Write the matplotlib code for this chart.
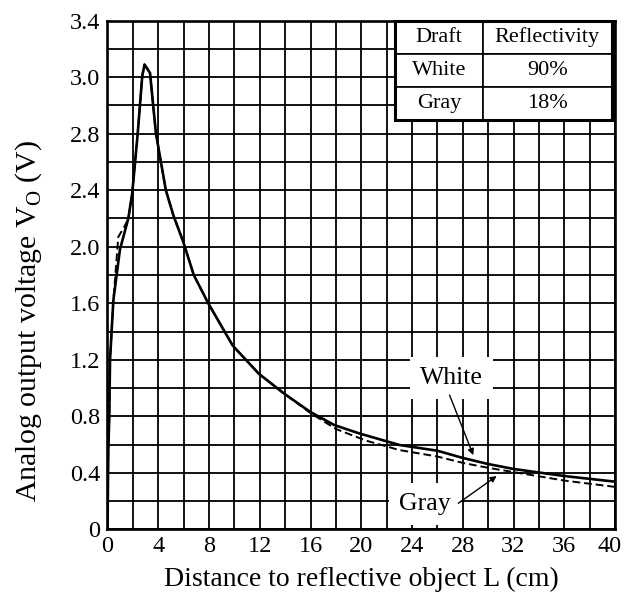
import matplotlib

matplotlib.use("Agg")
import matplotlib.pyplot as plt
from matplotlib.patches import Rectangle
from matplotlib.transforms import ScaledTranslation

# Values (y in grid units: one row = 0.2 V)
WHITE_DISTANCE_CM = [
    0, 0.06, 0.14, 0.2, 0.46, 0.98, 1.64, 1.95, 2.38, 2.74, 2.92, 3.35, 3.82,
    4.6, 5.2, 5.95, 6.8, 7.94, 9.87, 11.94, 13.93, 15.96, 17.87, 19.9, 23.0,
    26.0, 28.0, 30.0, 32.0, 36.0, 40.0,
]
WHITE_VOLTAGE_V = [
    0, 0.54, 0.8, 1.2, 1.62, 1.98, 2.2, 2.38, 2.8, 3.21, 3.29, 3.23, 2.8,
    2.4, 2.22, 2.04, 1.8, 1.6, 1.3, 1.1, 0.96, 0.832, 0.738, 0.677, 0.597,
    0.556, 0.505, 0.462, 0.427, 0.377, 0.337,
]
GRAY_DISTANCE_CM = [
    0, 0.06, 0.14, 0.2, 0.46, 0.62, 0.85, 1.38, 1.64, 1.95, 2.38, 2.74, 2.92,
    3.35, 3.82, 4.6, 5.2, 5.95, 6.8, 7.94, 9.87, 11.94, 13.93, 15.96, 18.0,
    20.4, 23.0, 26.0, 28.0, 30.0, 32.0, 36.0, 40.0,
]
GRAY_VOLTAGE_V = [
    0, 0.54, 0.8, 1.2, 1.62, 1.8, 2.07, 2.15, 2.2, 2.38, 2.8, 3.21, 3.29,
    3.23, 2.8, 2.4, 2.22, 2.04, 1.8, 1.6, 1.3, 1.1, 0.96, 0.825, 0.71,
    0.627, 0.561, 0.515, 0.47, 0.435, 0.405, 0.345, 0.30,
]

X_TICKS = [0, 4, 8, 12, 16, 20, 24, 28, 32, 36, 40]
Y_TICKS = [0, 0.4, 0.8, 1.2, 1.6, 2.0, 2.4, 2.8, 3.2, 3.6]
Y_TICK_LABELS = ["0", "0.4", "0.8", "1.2", "1.6", "2.0", "2.4", "2.8", "3.0", "3.4"]

TABLE_HEADER = ["Draft", "Reflectivity"]
TABLE_ROWS = [["White", "90%"], ["Gray", "18%"]]

FONT = "Liberation Serif"


def setup_axes(ax) -> None:
    """Grid, limits and tick labels like the datasheet plot."""
    ax.set_xlim(0, 40)
    ax.set_ylim(0, 3.6)
    ax.set_xticks(X_TICKS)
    ax.set_xticks(range(2, 40, 4), minor=True)
    ax.set_yticks(Y_TICKS)
    ax.set_yticks([i * 0.4 + 0.2 for i in range(9)], minor=True)
    ax.set_yticklabels(Y_TICK_LABELS)
    ax.grid(True, which="both", color="black", linewidth=1.3)
    ax.tick_params(which="both", length=0, labelsize=17.5, pad=5)
    for spine in ax.spines.values():
        spine.set_linewidth(1.9)
    ax.set_axisbelow(True)
    ax.set_xlabel("Distance to reflective object L (cm)", fontsize=20, labelpad=7)
    ax.set_ylabel(r"Analog output voltage V$_\mathrm{O}$ (V)", fontsize=21.5, labelpad=5)
    ax.yaxis.set_label_coords(-0.126, 0.41)

    # the last x label sits a bit left so it stays inside the picture
    fig = ax.figure
    last = ax.get_xticklabels()[-1]
    last.set_transform(last.get_transform() + ScaledTranslation(-5 / 100, 0, fig.dpi_scale_trans))


def draw_table(ax) -> None:
    """Legend table at the top right."""
    table = ax.table(
        cellText=TABLE_ROWS,
        colLabels=TABLE_HEADER,
        cellLoc="center",
        colWidths=[0.405, 0.595],
        bbox=[0.5665, 0.805, 0.427, 0.195],
        zorder=5,
    )
    table.auto_set_font_size(False)
    table.set_fontsize(16)
    for cell in table.get_celld().values():
        cell.set_linewidth(1.2)
        cell.set_facecolor("white")
        cell.get_text().set_fontfamily(FONT)
    ax.add_patch(
        Rectangle(
            (0.5665, 0.805), 0.427, 0.195, transform=ax.transAxes,
            fill=False, linewidth=2.2, edgecolor="black", zorder=6, clip_on=False,
        )
    )


def main() -> None:
    plt.rcParams["font.family"] = FONT
    plt.rcParams["mathtext.fontset"] = "custom"
    plt.rcParams["mathtext.rm"] = FONT

    fig = plt.figure(figsize=(6.25, 5.99), dpi=100)
    ax = fig.add_axes([0.172, 0.1164, 0.812, 0.849])
    setup_axes(ax)

    ax.plot(WHITE_DISTANCE_CM, WHITE_VOLTAGE_V, color="black", linewidth=1.9, zorder=3)
    ax.plot(GRAY_DISTANCE_CM, GRAY_VOLTAGE_V, color="black", linewidth=1.4,
            dashes=(4, 2), zorder=3)

    box = dict(boxstyle="square,pad=0.4", facecolor="white", edgecolor="none")
    arrow = dict(arrowstyle="-|>", color="black", linewidth=1.0, mutation_scale=9,
                 shrinkA=0, shrinkB=0)
    ax.annotate("White", xy=(28.83, 0.525), xytext=(27.1, 1.07), fontsize=18.5,
                ha="center", va="center", bbox=box, zorder=4)
    ax.annotate("", xy=(28.83, 0.525), xytext=(26.96, 0.95), arrowprops=arrow, zorder=4)
    ax.annotate("Gray", xy=(30.67, 0.377), xytext=(25.0, 0.18), fontsize=18.5,
                ha="center", va="center", bbox=box, zorder=4)
    ax.annotate("", xy=(30.67, 0.377), xytext=(27.65, 0.184), arrowprops=arrow, zorder=4)

    draw_table(ax)

    fig.savefig("out.png", dpi=100)


if __name__ == "__main__":
    main()
